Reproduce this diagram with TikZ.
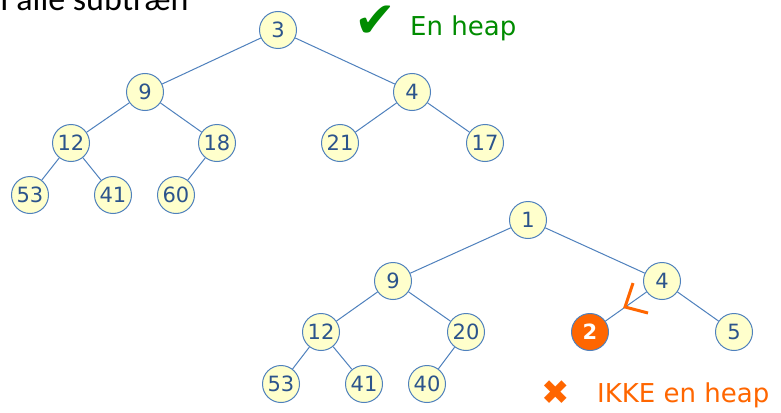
\documentclass[tikz,border=0pt]{standalone}
\usepackage{fontspec}
\setmainfont{DejaVu Sans}
\newfontfamily\calib{Carlito}
\definecolor{nfill}{RGB}{255,255,204}
\definecolor{nbord}{RGB}{79,129,189}
\definecolor{ntext}{RGB}{44,84,140}
\definecolor{okgreen}{RGB}{0,140,0}
\definecolor{badorange}{RGB}{255,102,0}
\tikzset{
  hnode/.style={circle, draw=nbord, line width=1pt, fill=nfill, minimum size=37pt, inner sep=0pt,
    text=ntext, font=\fontsize{21}{21}\selectfont},
  badnode/.style={hnode, fill=badorange, text=white, font=\fontsize{21}{21}\selectfont\bfseries},
  edge/.style={draw=nbord, line width=1pt},
}
\begin{document}
\begin{tikzpicture}[x=1pt,y=-1pt]
\useasboundingbox (0,0) rectangle (781,412);
\fill[white] (0,0) rectangle (781,412);
% cut title
\node[anchor=base west, inner sep=0pt, font=\calib\fontsize{34}{34}\selectfont] (title) at (0,11) {I alle subtræn};
% tree 1
\node[hnode] (a3) at (278,30) {3};
\node[hnode] (a9) at (145,92) {9};
\node[hnode] (a4) at (412,92) {4};
\node[hnode] (a12) at (71,143) {12};
\node[hnode] (a18) at (217,143) {18};
\node[hnode] (a21) at (340,143) {21};
\node[hnode] (a17) at (485,143) {17};
\node[hnode] (a53) at (30,195) {53};
\node[hnode] (a41) at (113,195) {41};
\node[hnode] (a60) at (176,195) {60};
\foreach \p/\c in {a3/a9,a3/a4,a9/a12,a9/a18,a4/a21,a4/a17,a12/a53,a12/a41,a18/a60}
  \draw[edge] (\p) -- (\c);
% check
\node[text=okgreen, inner sep=0pt, font=\fontsize{50}{50}\selectfont] (chk) at (375,22) {✔};
\node[anchor=base west, text=okgreen, font=\fontsize{26}{26}\selectfont, inner sep=0pt] (ok) at (410,36) {En heap};
% tree 2
\node[hnode] (b1) at (528,220) {1};
\node[hnode] (b9) at (393,281) {9};
\node[hnode] (b4) at (662,281) {4};
\node[hnode] (b12) at (321,332) {12};
\node[hnode] (b20) at (466,332) {20};
\node[badnode] (b2) at (590,332) {2};
\node[hnode] (b5) at (734,332) {5};
\node[hnode] (b53) at (281,384) {53};
\node[hnode] (b41) at (364,384) {41};
\node[hnode] (b40) at (427,384) {40};
\foreach \p/\c in {b1/b9,b1/b4,b9/b12,b9/b20,b4/b2,b4/b5,b12/b53,b12/b41,b20/b40}
  \draw[edge] (\p) -- (\c);
% orange mark
\coordinate (m1) at (633,283);
\coordinate (m2) at (625,307);
\coordinate (m3) at (648,313);
\draw[badorange, line width=3pt] (m1) -- (m2) -- (m3);
% cross
\node[text=badorange, inner sep=0pt, font=\fontsize{34}{34}\selectfont] (crs) at (556,393) {✖};
\node[anchor=base west, text=badorange, font=\fontsize{26}{26}\selectfont, inner sep=0pt] (bad) at (597,402) {IKKE en heap};
\end{tikzpicture}
\end{document}
